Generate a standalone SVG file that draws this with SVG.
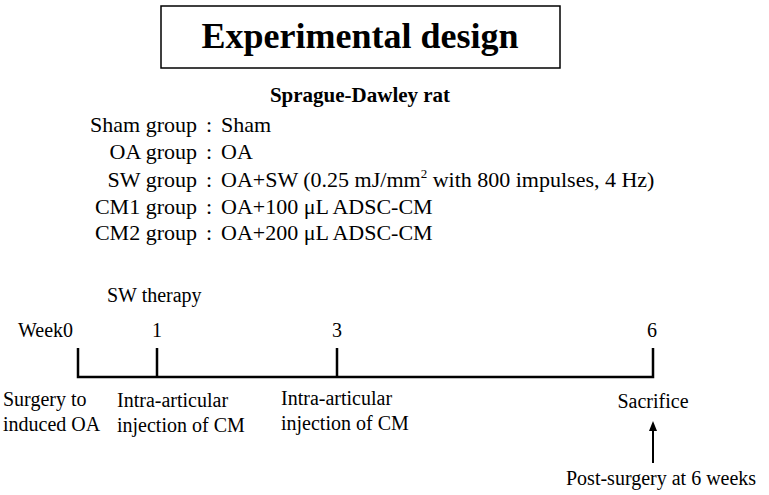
<svg xmlns="http://www.w3.org/2000/svg" width="769" height="495" viewBox="0 0 769 495">
<style>
text{font-family:"Liberation Serif","Times New Roman",serif;fill:#000}
.t{font-size:20px}
.g{font-size:22px}
.r{text-anchor:end}
.c{text-anchor:middle}
.ln{stroke:#000;stroke-width:2.5;fill:none}
</style>
<defs><marker id="ah" markerWidth="10" markerHeight="10" refX="5" refY="5" orient="auto" markerUnits="userSpaceOnUse"><path d="M0,1 L10,5 L0,9 z" fill="#000"/></marker></defs>
<rect width="769" height="495" fill="#fff"/>
<g id="title"><rect x="161" y="6" width="399" height="62" fill="#fff" stroke="#000" stroke-width="1.5"/>
<text x="360" y="48" font-size="36" font-weight="bold" text-anchor="middle">Experimental design</text></g>
<g id="groups">
<text x="360" y="102" font-size="21" font-weight="bold" text-anchor="middle">Sprague-Dawley rat</text>
<text class="g r" x="197" y="132">Sham group</text><text class="g c" x="209" y="132">:</text><text class="g" x="221" y="132">Sham</text>
<text class="g r" x="197" y="159">OA group</text><text class="g c" x="209" y="159">:</text><text class="g" x="221" y="159">OA</text>
<text class="g r" x="197" y="187">SW group</text><text class="g c" x="209" y="187">:</text><text class="g" x="221" y="187">OA+SW (0.25 mJ/mm<tspan font-size="13" dy="-9">2</tspan><tspan dy="9"> with 800 impulses, 4 Hz)</tspan></text>
<text class="g r" x="197" y="214">CM1 group</text><text class="g c" x="209" y="214">:</text><text class="g" x="221" y="214">OA+100 μL ADSC-CM</text>
<text class="g r" x="197" y="240">CM2 group</text><text class="g c" x="209" y="240">:</text><text class="g" x="221" y="240">OA+200 μL ADSC-CM</text>
</g>
<g id="connectors">
<path class="ln" d="M78,348 V377 H653 V348 M157,348 V377 M337,348 V377"/>
<line x1="653" y1="463" x2="653" y2="426" stroke="#000" stroke-width="2" marker-end="url(#ah)"/>
</g>
<g id="timeline">
<text class="t" x="107" y="302">SW therapy</text>
<text class="t" x="18" y="337">Week0</text>
<text class="t c" x="157" y="337">1</text>
<text class="t c" x="337" y="337">3</text>
<text class="t c" x="652" y="337">6</text>
<text class="t" x="3" y="406">Surgery to</text>
<text class="t" x="3" y="431">induced OA</text>
<text class="t" x="117" y="407">Intra-articular</text>
<text class="t" x="117" y="432">injection  of CM</text>
<text class="t" x="281" y="405">Intra-articular</text>
<text class="t" x="281" y="430">injection  of CM</text>
<text class="t c" x="653" y="408">Sacrifice</text>
<text class="t" x="566" y="485">Post-surgery  at 6 weeks</text>
</g>
</svg>
